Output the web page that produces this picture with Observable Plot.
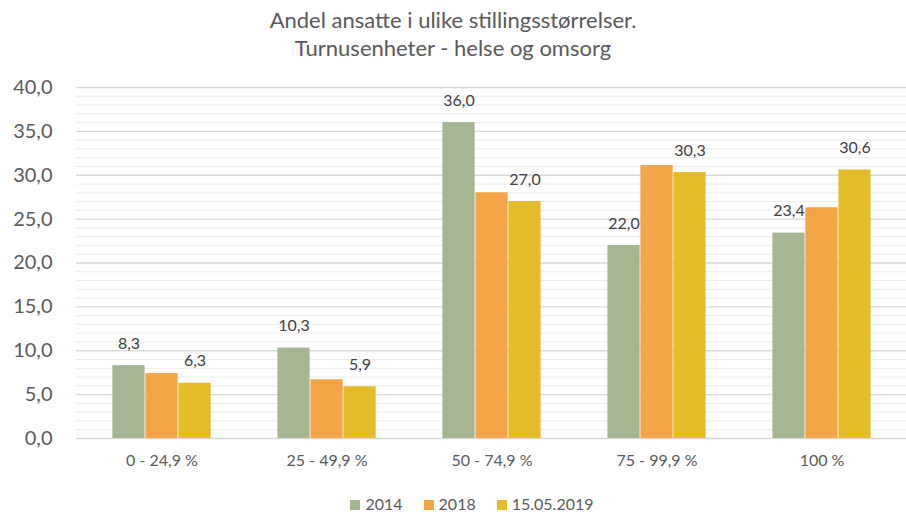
<!DOCTYPE html>
<html>
<head>
<meta charset="utf-8">
<script src="https://cdn.jsdelivr.net/npm/d3@7"></script>
<script src="https://cdn.jsdelivr.net/npm/@observablehq/plot@0.6"></script>
<style>
  body { margin: 0; background: #fff; font-family: Lato, "Open Sans", sans-serif; overflow: hidden; }
  #title { text-align: center; color: #595959; font-size: 22px; line-height: 28px; padding-top: 6px; height: 56px; }
  #legend { display: flex; justify-content: center; gap: 21px; color: #595959; font-size: 16px; line-height: 18px; margin-top: 17px; padding-left: 38px; }
  #legend span.sw { display: inline-block; width: 10px; height: 10px; margin-right: 5px; vertical-align: 0px; }
  #chart svg { display: block; }
</style>
</head>
<body>
<div id="title">Andel ansatte i ulike stillingsstørrelser.<br>Turnusenheter - helse og omsorg</div>
<div id="chart"></div>
<div id="legend"></div>
<script>
const categories = ["0 - 24,9 %", "25 - 49,9 %", "50 - 74,9 %", "75 - 99,9 %", "100 %"];
const series = ["2014", "2018", "15.05.2019"];
const v2014 = [8.3, 10.3, 36.0, 22.0, 23.4];
const v2018 = [7.4, 6.7, 28.0, 31.1, 26.3];
const v2019 = [6.3, 5.9, 27.0, 30.3, 30.6];
const yTicks = [0, 5, 10, 15, 20, 25, 30, 35, 40];
const minorTicks = d3.range(0, 41, 1);
const colors = ["#A5B592", "#F3A447", "#E4BC29"];
const labelled = ["2014", "15.05.2019"];

const valuesBySeries = [v2014, v2018, v2019];
const rows = [];
categories.forEach((c, i) => {
  series.forEach((s, j) => rows.push({cat: c, series: s, value: valuesBySeries[j][i], key: c + "|" + s}));
});
// band domain: a spacer either side of each group of three bars
const domain = [];
categories.forEach(c => {
  domain.push(c + "|gapL");
  series.forEach(s => domain.push(c + "|" + s));
  domain.push(c + "|gapR");
});
const fmt = d3.format(".1f");
const comma = v => fmt(v).replace(".", ",");

const chart = Plot.plot({
  width: 906,
  height: 416,
  marginLeft: 76,
  marginRight: 0,
  marginTop: 25,
  marginBottom: 40,
  style: {fontFamily: "Lato, 'Open Sans', sans-serif", background: "#fff"},
  x: {domain, padding: 0, label: null},
  y: {domain: [0, 40], label: null},
  color: {domain: series, range: colors},
  marks: [
    Plot.ruleY(minorTicks.filter(t => t % 5 !== 0), {stroke: "#ECECEC", strokeWidth: 1}),
    Plot.ruleY(yTicks, {stroke: "#D9D9D9", strokeWidth: 1.3}),
    Plot.barY(rows, {x: "key", y: "value", fill: "series", insetLeft: 0.4, insetRight: 0.4}),
    Plot.text(rows.filter(d => labelled.includes(d.series)), {
      x: "key", y: "value", text: d => comma(d.value), dy: -22,
      fontSize: 16, fill: "#404040", textAnchor: "middle", lineAnchor: "middle"
    }),
    Plot.axisY(yTicks, {tickSize: 0, tickPadding: 24, fontSize: 20, fill: "#595959", tickFormat: comma}),
    Plot.axisX(categories.map(c => c + "|2018"), {
      tickSize: 0, tickPadding: 16, fontSize: 16, fill: "#595959",
      tickFormat: k => k.split("|")[0]
    })
  ]
});
document.getElementById("chart").appendChild(chart);

const legend = document.getElementById("legend");
series.forEach((s, i) => {
  const item = document.createElement("div");
  item.innerHTML = `<span class="sw" style="background:${colors[i]}"></span>${s}`;
  legend.appendChild(item);
});
</script>
</body>
</html>
